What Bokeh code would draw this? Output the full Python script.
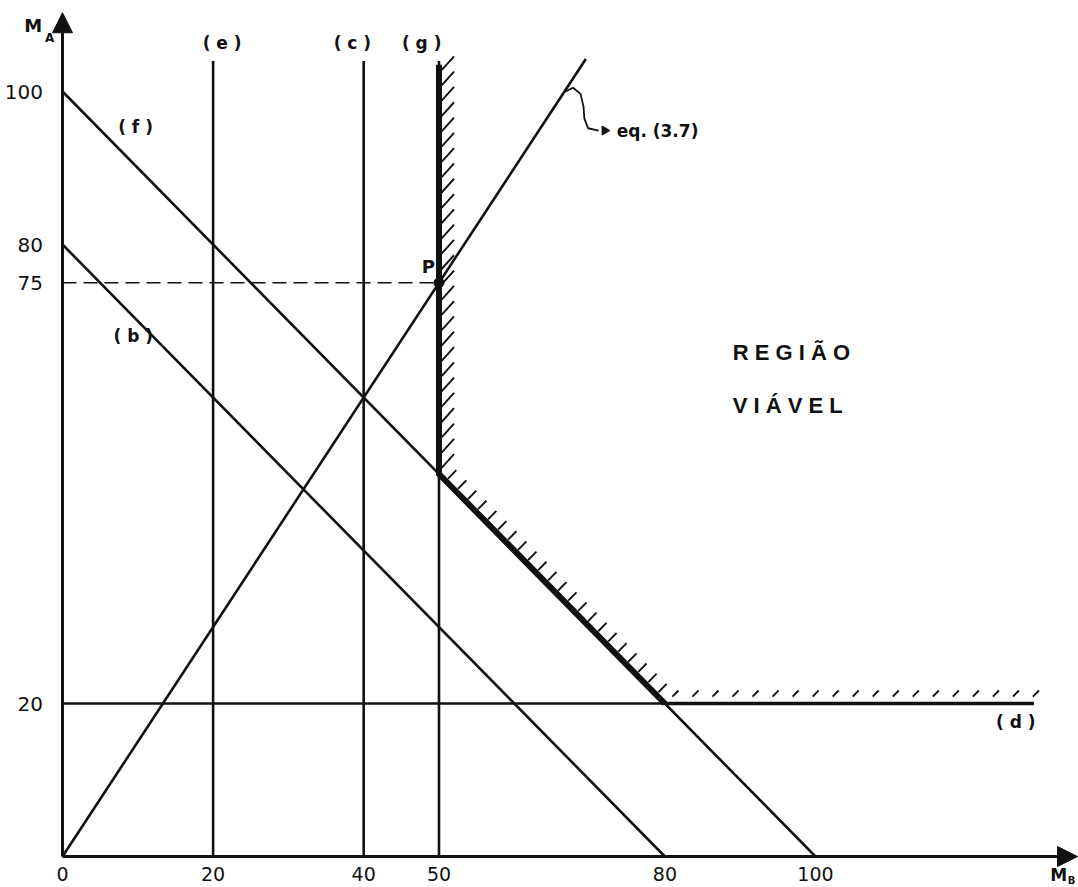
import numpy as np
from bokeh.plotting import figure
from bokeh.models import Range1d, ColumnDataSource, Arrow, NormalHead
from bokeh.core.properties import value
from bokeh.embed import file_html
from bokeh.resources import INLINE

# ---- problem data -------------------------------------------------------
x_ticks = [0, 20, 40, 50, 80, 100]          # M_B axis labels
y_ticks = [20, 75, 80, 100]                 # M_A axis labels

diag_names = ["( f )", "( b )"]             # M_A + M_B = c
diag_const = [100, 80]

vert_names = ["( e )", "( c )", "( g )"]    # M_B = k
vert_vals = [20, 40, 50]

floor_name = "( d )"                        # M_A = 20
floor_val = 20

ratio = 1.5                                 # eq. (3.7): M_A = 1.5 M_B
p_point = (50, 75)                          # optimum P

# ---- drawing extents ------------------------------------------------------
X_MAX_LINE = 129.0     # right end of (d)
V_TOP = 104.0          # top of the vertical constraints
RAY_END = 69.5         # end of the eq. (3.7) ray (M_B)
X_AXIS_END = 134.8
Y_AXIS_END = 110.3

FONT = value("DejaVu Sans")
INK = "#111111"

p = figure(width=1078, height=887,
           x_range=Range1d(-8.234, 134.93), y_range=Range1d(-4.05, 111.9),
           x_axis_type=None, y_axis_type=None,
           output_backend="svg", toolbar_location=None, min_border=0)
p.grid.visible = False
p.outline_line_color = None
p.background_fill_color = "white"
p.border_fill_color = "white"

# axes with arrow heads
p.add_layout(Arrow(end=NormalHead(size=20, fill_color=INK, line_color=INK, line_width=1),
                   x_start=0, y_start=0, x_end=X_AXIS_END, y_end=0,
                   line_color=INK, line_width=3))
p.add_layout(Arrow(end=NormalHead(size=20, fill_color=INK, line_color=INK, line_width=1),
                   x_start=0, y_start=0, x_end=0, y_end=Y_AXIS_END,
                   line_color=INK, line_width=3))

# diagonal constraints (f) and (b)
p.segment(x0=[0] * len(diag_const), y0=diag_const, x1=diag_const, y1=[0] * len(diag_const),
          line_color=INK, line_width=2.6)

# vertical constraints (e), (c), (g)
p.segment(x0=vert_vals, y0=[0] * len(vert_vals), x1=vert_vals, y1=[V_TOP] * len(vert_vals),
          line_color=INK, line_width=2.6)

# horizontal constraint (d)
p.segment(x0=[0], y0=[floor_val], x1=[X_MAX_LINE], y1=[floor_val],
          line_color=INK, line_width=2.6)

# eq. (3.7) ray
p.line([0, RAY_END], [0, ratio * RAY_END], line_color=INK, line_width=2.6)

# dashed guide to P
p.line([0, p_point[0]], [p_point[1], p_point[1]], line_color=INK, line_width=1.6,
       line_dash="14 7")

# boundary of the feasible region
g_x = vert_vals[2]
f_c = diag_const[0]
corner1 = (g_x, f_c - g_x)
corner2 = (f_c - floor_val, floor_val)
p.line([g_x, corner1[0], corner2[0]], [V_TOP - 0.5, corner1[1], corner2[1]],
       line_color=INK, line_width=6, line_join="miter")
p.segment(x0=[corner2[0]], y0=[floor_val], x1=[X_MAX_LINE], y1=[floor_val],
          line_color=INK, line_width=3.6)

# hatching on the feasible side
hv_y = np.arange(V_TOP - 1.2, corner1[1] + 0.5, -2.0)
hd_x = np.arange(corner1[0] + 0.9, corner2[0] - 0.2, 1.33)
hh_x = np.arange(corner2[0] + 1.0, X_MAX_LINE + 1.5, 2.66)
hx0 = np.concatenate([np.full_like(hv_y, g_x + 0.35), hd_x + 0.3, hh_x])
hy0 = np.concatenate([hv_y, f_c - hd_x + 0.3, np.full_like(hh_x, floor_val + 0.9)])
hx1 = np.concatenate([np.full_like(hv_y, g_x + 2.0), hd_x + 1.4, hh_x + 0.8])
hy1 = np.concatenate([hv_y + 1.8, f_c - hd_x + 1.4, np.full_like(hh_x, floor_val + 1.7)])
p.segment(x0=hx0, y0=hy0, x1=hx1, y1=hy1, line_color=INK, line_width=1.9)

# point P
p.scatter([p_point[0]], [p_point[1]], size=10, marker="circle", color=INK)

# leader from the ray to its label
lead_x = [66.6, 67.8, 68.8, 69.2, 69.3, 69.8, 71.2]
lead_y = [99.9, 100.5, 99.7, 98.0, 96.5, 95.2, 94.9]
p.line(lead_x, lead_y, line_color=INK, line_width=1.8)
p.scatter([72.0], [94.9], marker="triangle", angle=-np.pi / 2, size=9, color=INK)

# tick labels
p.text(x=[-2.6] * len(y_ticks), y=y_ticks, text=[str(v) for v in y_ticks],
       text_font=FONT, text_font_size="20px", text_align="right",
       text_baseline="middle", text_color=INK)
p.text(x=x_ticks, y=[-2.3] * len(x_ticks), text=[str(v) for v in x_ticks],
       text_font=FONT, text_font_size="19px", text_align="center",
       text_baseline="middle", text_color=INK)

# axis names
bold = dict(text_font=FONT, text_font_style="bold", text_color=INK,
            text_baseline="middle", text_align="center")
p.text(x=[-3.9], y=[108.6], text=["M"], text_font_size="18px", **bold)
p.text(x=[-1.7], y=[107.0], text=["A"], text_font_size="12px", **bold)
p.text(x=[132.3], y=[-2.4], text=["M"], text_font_size="17px", **bold)
p.text(x=[134.0], y=[-3.1], text=["B"], text_font_size="10px", **bold)

# constraint labels
lab_src = ColumnDataSource(dict(
    x=[9.7, 9.4, 21.2, 38.5, 47.7, 126.6],
    y=[95.3, 68.1, 106.4, 106.4, 106.4, 17.6],
    t=diag_names + vert_names + [floor_name],
))
p.text(x="x", y="y", text="t", source=lab_src, text_font_size="17px", **bold)

p.text(x=[48.6], y=[77.1], text=["P"], text_font_size="18px", **bold)

p.text(x=[73.6], y=[94.8], text=["eq. (3.7)"], text_font=FONT, text_font_style="bold",
       text_font_size="17px", text_align="left", text_baseline="middle", text_color=INK)

p.text(x=[89.0, 89.0], y=[65.9, 59.0], text=["R E G I Ã O", "V I Á V E L"],
       text_font=value("Liberation Sans"), text_font_style="bold", text_font_size="22px",
       text_align="left", text_baseline="middle", text_color=INK)

open("out.html", "w").write(file_html(p, INLINE))
